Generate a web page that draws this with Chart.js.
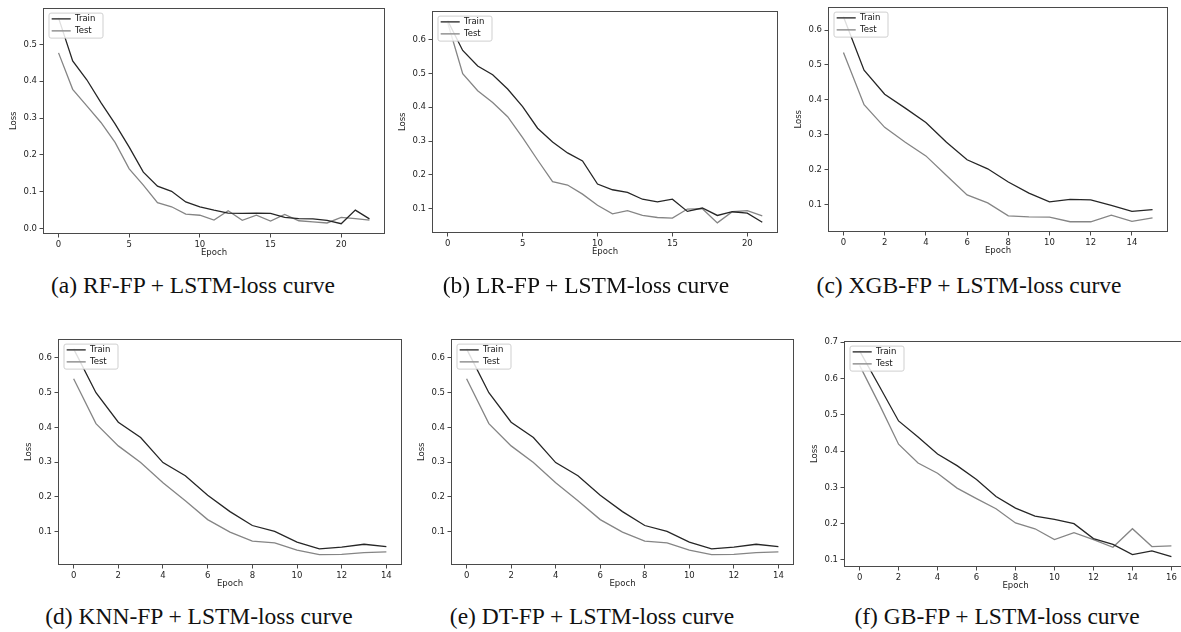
<!DOCTYPE html>
<html><head><meta charset="utf-8">
<script src="https://cdn.jsdelivr.net/npm/chart.js@4.4.1/dist/chart.umd.min.js"></script>
<style>
html,body{margin:0;padding:0;background:#fff;width:1181px;height:632px;overflow:hidden;position:relative}
canvas{position:absolute}
.cap{position:absolute;font-family:"Liberation Serif","Times New Roman",serif;font-size:23.5px;color:#111;white-space:nowrap;transform:translate(-50%,-50%);line-height:1}
</style></head><body>
<script>
// ---------- data ----------
const rfTrain = [0.572,0.455,0.404,0.342,0.284,0.221,0.153,0.115,0.101,0.072,0.059,0.050,0.042,0.041,0.042,0.041,0.030,0.027,0.026,0.022,0.013,0.050,0.026];
const rfTest  = [0.477,0.378,0.333,0.288,0.234,0.162,0.118,0.070,0.059,0.039,0.036,0.023,0.048,0.022,0.036,0.020,0.038,0.021,0.018,0.015,0.030,0.027,0.023];

const lrTrain = [0.656,0.568,0.522,0.496,0.454,0.402,0.338,0.297,0.265,0.241,0.173,0.156,0.148,0.128,0.120,0.128,0.092,0.102,0.080,0.091,0.087,0.060];
const lrTest  = [0.650,0.499,0.449,0.414,0.372,0.310,0.244,0.180,0.170,0.143,0.110,0.085,0.094,0.080,0.074,0.072,0.099,0.100,0.058,0.091,0.094,0.079];

const xgbTrain = [0.638,0.485,0.416,0.376,0.335,0.278,0.228,0.202,0.164,0.132,0.107,0.114,0.113,0.097,0.080,0.085];
const xgbTest  = [0.536,0.386,0.321,0.278,0.239,0.183,0.127,0.104,0.067,0.064,0.063,0.050,0.050,0.069,0.051,0.061];

const knnTrain = [0.626,0.500,0.415,0.371,0.299,0.261,0.205,0.158,0.118,0.101,0.070,0.051,0.056,0.064,0.057];
const knnTest  = [0.540,0.411,0.347,0.299,0.241,0.189,0.135,0.099,0.073,0.068,0.047,0.034,0.035,0.040,0.042];

const dtTrain = [0.626,0.500,0.415,0.371,0.299,0.261,0.205,0.158,0.118,0.101,0.070,0.051,0.056,0.064,0.057];
const dtTest  = [0.540,0.411,0.347,0.299,0.241,0.189,0.135,0.099,0.073,0.068,0.047,0.034,0.035,0.040,0.042];

const gbTrain = [0.676,0.580,0.483,0.439,0.392,0.360,0.322,0.275,0.243,0.221,0.212,0.200,0.159,0.143,0.115,0.125,0.109];
const gbTest  = [0.636,0.530,0.419,0.367,0.339,0.298,0.269,0.241,0.202,0.186,0.156,0.175,0.156,0.135,0.186,0.137,0.139];

// tick labels
const xTicks20 = [0,5,10,15,20];
const xTicks14 = [0,2,4,6,8,10,12,14];
const xTicks16 = [0,2,4,6,8,10,12,14,16];
const yTicksA = [0.0,0.1,0.2,0.3,0.4,0.5];
const yTicks6 = [0.1,0.2,0.3,0.4,0.5,0.6];
const yTicks7 = [0.1,0.2,0.3,0.4,0.5,0.6,0.7];

const seriesNames = ['Train','Test'];
const axisTitles = {x:'Epoch', y:'Loss'};
const captions = [
  '(a) RF-FP + LSTM-loss curve',
  '(b) LR-FP + LSTM-loss curve',
  '(c) XGB-FP + LSTM-loss curve',
  '(d) KNN-FP + LSTM-loss curve',
  '(e) DT-FP + LSTM-loss curve',
  '(f) GB-FP + LSTM-loss curve'
];

// ---------- layout (plot-area rectangles in page px) ----------
const panels = [
  {rect:{L:43, T:6, R:385, B:234},   train:rfTrain,  test:rfTest,  xt:xTicks20, yt:yTicksA, cap:[193,286]},
  {rect:{L:432, T:9, R:778, B:233},  train:lrTrain,  test:lrTest,  xt:xTicks20, yt:yTicks6, cap:[586,286]},
  {rect:{L:828, T:5, R:1168, B:232}, train:xgbTrain, test:xgbTest, xt:xTicks14, yt:yTicks6, cap:[969,286]},
  {rect:{L:58, T:337, R:402, B:565}, train:knnTrain, test:knnTest, xt:xTicks14, yt:yTicks6, cap:[199,617]},
  {rect:{L:451, T:337, R:794, B:565},train:dtTrain,  test:dtTest,  xt:xTicks14, yt:yTicks6, cap:[592,617]},
  {rect:{L:844, T:339, R:1187, B:567},train:gbTrain, test:gbTest,  xt:xTicks16, yt:yTicks7, cap:[997,617]}
];

const FONT = {family:'"DejaVu Sans", sans-serif', size:8.5, lineHeight:1.2};
const TRAIN_COLOR = '#262626', TEST_COLOR = '#858585', FRAME = '#4a4a4a', TXT = '#1e1e1e';
const PADL = 40, PADT = 6, PADR = 8, PADB = 28;
const LEG_PAD = 3.5;

const framePlugin = {
  id:'frame',
  afterLayout(chart){
    const lg = chart.legend, a = chart.chartArea;
    if (lg){
      const h = lg.bottom - lg.top;
      lg.left = a.left + 5.2;
      lg.top = a.top + 3.6;
      lg.bottom = lg.top + Math.max(h, 60);
    }
  },
  afterDatasetsDraw(chart){
    const {ctx, chartArea:a} = chart;
    ctx.save();
    // legend frame
    const bx = a.left + 6, by = a.top + 5.5, bw = 54, bh = 25, r = 2;
    ctx.beginPath();
    ctx.moveTo(bx+r,by); ctx.lineTo(bx+bw-r,by); ctx.quadraticCurveTo(bx+bw,by,bx+bw,by+r);
    ctx.lineTo(bx+bw,by+bh-r); ctx.quadraticCurveTo(bx+bw,by+bh,bx+bw-r,by+bh);
    ctx.lineTo(bx+r,by+bh); ctx.quadraticCurveTo(bx,by+bh,bx,by+bh-r);
    ctx.lineTo(bx,by+r); ctx.quadraticCurveTo(bx,by,bx+r,by); ctx.closePath();
    ctx.fillStyle = 'rgba(255,255,255,0.85)'; ctx.fill();
    ctx.strokeStyle = '#cfcfcf'; ctx.lineWidth = 1; ctx.stroke();
    ctx.restore();
    if (chart.legend) chart.legend.draw();
    // axes frame
    ctx.save();
    ctx.strokeStyle = FRAME; ctx.lineWidth = 1;
    ctx.strokeRect(Math.round(a.left)+0.5, Math.round(a.top)+0.5, Math.round(a.right-a.left)-1, Math.round(a.bottom-a.top)-1);
    ctx.restore();
  }
};

function makeChart(p){
  const {L,T,R,B} = p.rect;
  const w = R - L + PADL + PADR, h = B - T + PADT + PADB;
  const cv = document.createElement('canvas');
  cv.width = w; cv.height = h;
  cv.style.left = (L - PADL) + 'px'; cv.style.top = (T - PADT) + 'px';
  cv.style.width = w + 'px'; cv.style.height = h + 'px';
  document.body.appendChild(cv);

  const n = p.train.length - 1;
  const all = p.train.concat(p.test);
  const lo = Math.min(...all), hi = Math.max(...all), m = 0.05*(hi-lo);

  new Chart(cv, {
    type:'line',
    data:{datasets:[
      {label:seriesNames[0], data:p.train.map((v,i)=>({x:i,y:v})), borderColor:TRAIN_COLOR, backgroundColor:TRAIN_COLOR, borderWidth:1.3, pointRadius:0, tension:0, fill:false},
      {label:seriesNames[1], data:p.test.map((v,i)=>({x:i,y:v})),  borderColor:TEST_COLOR,  backgroundColor:TEST_COLOR,  borderWidth:1.3, pointRadius:0, tension:0, fill:false}
    ]},
    options:{
      responsive:false, animation:false, devicePixelRatio:1,
      layout:{padding:{left:0, top:PADT, right:PADR, bottom:0}},
      plugins:{
        legend:{position:'chartArea', align:'start',
          labels:{usePointStyle:true, pointStyle:'line', pointStyleWidth:19, font:FONT, color:TXT, padding:LEG_PAD}},
        tooltip:{enabled:false}
      },
      scales:{
        x:{type:'linear', min:-0.05*n, max:1.05*n,
          grid:{display:true, drawOnChartArea:false, drawTicks:true, tickLength:3.5, color:FRAME},
          border:{display:false},
          ticks:{font:FONT, color:TXT, padding:2, autoSkip:false, maxRotation:0, callback:v=>String(v)},
          afterBuildTicks:s=>{ s.ticks = p.xt.map(v=>({value:v})); },
          afterFit:s=>{ s.height = PADB; },
          title:{display:true, text:axisTitles.x, font:FONT, color:TXT, padding:{top:0,bottom:4}}
        },
        y:{type:'linear', min:lo-m, max:hi+m,
          grid:{display:true, drawOnChartArea:false, drawTicks:true, tickLength:3.5, color:FRAME},
          border:{display:false},
          ticks:{font:FONT, color:TXT, padding:2.5, autoSkip:false, callback:v=>Number(v).toFixed(1)},
          afterBuildTicks:s=>{ s.ticks = p.yt.map(v=>({value:v})); },
          afterFit:s=>{ s.width = PADL; },
          title:{display:true, text:axisTitles.y, font:FONT, color:TXT, padding:{top:6,bottom:0}}
        }
      }
    },
    plugins:[framePlugin]
  });
}

panels.forEach((p,i)=>{
  makeChart(p);
  const d = document.createElement('div');
  d.className = 'cap';
  d.textContent = captions[i];
  d.style.left = p.cap[0] + 'px';
  d.style.top = p.cap[1] + 'px';
  document.body.appendChild(d);
});
</script>
</body></html>
